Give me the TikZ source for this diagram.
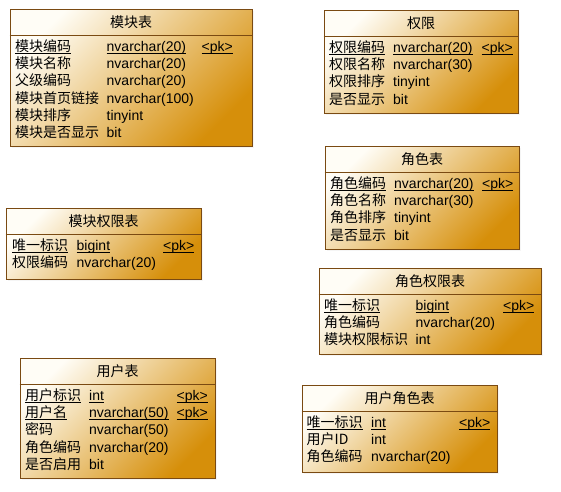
\documentclass[tikz,border=0pt]{standalone}
\usepackage{fontspec}
\setmainfont{Liberation Sans}
\newfontfamily\cjk{Noto Sans CJK SC}
\usepackage{tikz}
\usetikzlibrary{shadows}

\definecolor{TabEdge}{RGB}{122,74,18}
\definecolor{TabLight}{RGB}{255,253,246}
\definecolor{TabMid}{RGB}{234,180,84}
\definecolor{TabDark}{RGB}{214,143,10}

\newcommand\keyline[1]{\setbox0\hbox{#1}\rlap{\rule[-2.2pt]{\wd0}{0.9pt}}\box0}
\newcommand\topline{\rule{0pt}{13pt}}

\begin{document}
\begin{tikzpicture}[x=1pt,y=-1pt]
		\tikzstyle{Table}	= [rectangle, draw=TabEdge, line width=0.8pt, top color=TabLight, middle color=TabMid, bottom color=TabDark, shading angle=45, inner sep=0pt, drop shadow={shadow xshift=2pt, shadow yshift=-2pt, opacity=0.08}]
		\tikzstyle{Title}	= [inner sep=0pt, font=\cjk\fontsize{14}{17.3}\selectfont]
		\tikzstyle{Col}		= [anchor=north west, inner sep=0pt, align=left, font=\fontsize{14}{17.3}\selectfont]
		\tikzstyle{Name}	= [Col, font=\cjk\fontsize{14}{17.3}\selectfont]

		\useasboundingbox (0,0) rectangle (561,491);

		\node (t1) at (131, 77.5) [Table, minimum width=242pt, minimum height=137pt]{};
		\node (t2) at (421, 61.5) [Table, minimum width=194pt, minimum height=103pt]{};
		\node (t3) at (422, 197.5) [Table, minimum width=194pt, minimum height=103pt]{};
		\node (t4) at (103.5, 243.5) [Table, minimum width=195pt, minimum height=71pt]{};
		\node (t5) at (430, 311) [Table, minimum width=222pt, minimum height=86pt]{};
		\node (t6) at (399.5, 428.5) [Table, minimum width=195pt, minimum height=87pt]{};
		\node (t7) at (117.5, 418) [Table, minimum width=195pt, minimum height=120pt]{};

		\foreach \t in {t1,t2,t3,t4,t5,t6,t7}
			\draw [TabEdge, line width=0.8pt] ([yshift=-26.5pt]\t.north west) -- ([yshift=-26.5pt]\t.north east);

		\node (t1h) at ([yshift=-13.3pt]t1.north) [Title]{模块表};
		\node (t2h) at ([yshift=-13.3pt]t2.north) [Title]{权限};
		\node (t3h) at ([yshift=-13.3pt]t3.north) [Title]{角色表};
		\node (t4h) at ([yshift=-13.3pt]t4.north) [Title]{模块权限表};
		\node (t5h) at ([yshift=-13.3pt]t5.north) [Title]{角色权限表};
		\node (t6h) at ([yshift=-13.3pt]t6.north) [Title]{用户角色表};
		\node (t7h) at ([yshift=-13.3pt]t7.north) [Title]{用户表};

		% 模块表
		\node (t1n) at (15, 38) [Name]{\topline\keyline{模块编码}\\模块名称\\父级编码\\模块首页链接\\模块排序\\模块是否显示};
		\node (t1t) at (106.5, 38) [Col]{\topline\keyline{nvarchar(20)}\\nvarchar(20)\\nvarchar(20)\\nvarchar(100)\\tinyint\\bit};
		\node (t1k) at (201.5, 38) [Col]{\topline\keyline{<pk>}};

		% 权限
		\node (t2n) at (329, 39) [Name]{\topline\keyline{权限编码}\\权限名称\\权限排序\\是否显示};
		\node (t2t) at (393, 39) [Col]{\topline\keyline{nvarchar(20)}\\nvarchar(30)\\tinyint\\bit};
		\node (t2k) at (481.5, 39) [Col]{\topline\keyline{<pk>}};

		% 角色表
		\node (t3n) at (330, 175) [Name]{\topline\keyline{角色编码}\\角色名称\\角色排序\\是否显示};
		\node (t3t) at (394, 175) [Col]{\topline\keyline{nvarchar(20)}\\nvarchar(30)\\tinyint\\bit};
		\node (t3k) at (482, 175) [Col]{\topline\keyline{<pk>}};

		% 模块权限表
		\node (t4n) at (12, 237) [Name]{\topline\keyline{唯一标识}\\权限编码};
		\node (t4t) at (76.5, 237) [Col]{\topline\keyline{bigint}\\nvarchar(20)};
		\node (t4k) at (163, 237) [Col]{\topline\keyline{<pk>}};

		% 角色权限表
		\node (t5n) at (324, 297) [Name]{\topline\keyline{唯一标识}\\角色编码\\模块权限标识};
		\node (t5t) at (415.5, 297) [Col]{\topline\keyline{bigint}\\nvarchar(20)\\int};
		\node (t5k) at (503, 297) [Col]{\topline\keyline{<pk>}};

		% 用户角色表
		\node (t6n) at (306.5, 414) [Name]{\topline\keyline{唯一标识}\\用户ID\\角色编码};
		\node (t6t) at (371, 414) [Col]{\topline\keyline{int}\\int\\nvarchar(20)};
		\node (t6k) at (459, 414) [Col]{\topline\keyline{<pk>}};

		% 用户表
		\node (t7n) at (25, 387) [Name]{\topline\keyline{用户标识}\\\keyline{用户名}\\密码\\角色编码\\是否启用};
		\node (t7t) at (89, 387) [Col]{\topline\keyline{int}\\\keyline{nvarchar(50)}\\nvarchar(50)\\nvarchar(20)\\bit};
		\node (t7k) at (176.5, 387) [Col]{\topline\keyline{<pk>}\\\keyline{<pk>}};
	\end{tikzpicture}
\end{document}
